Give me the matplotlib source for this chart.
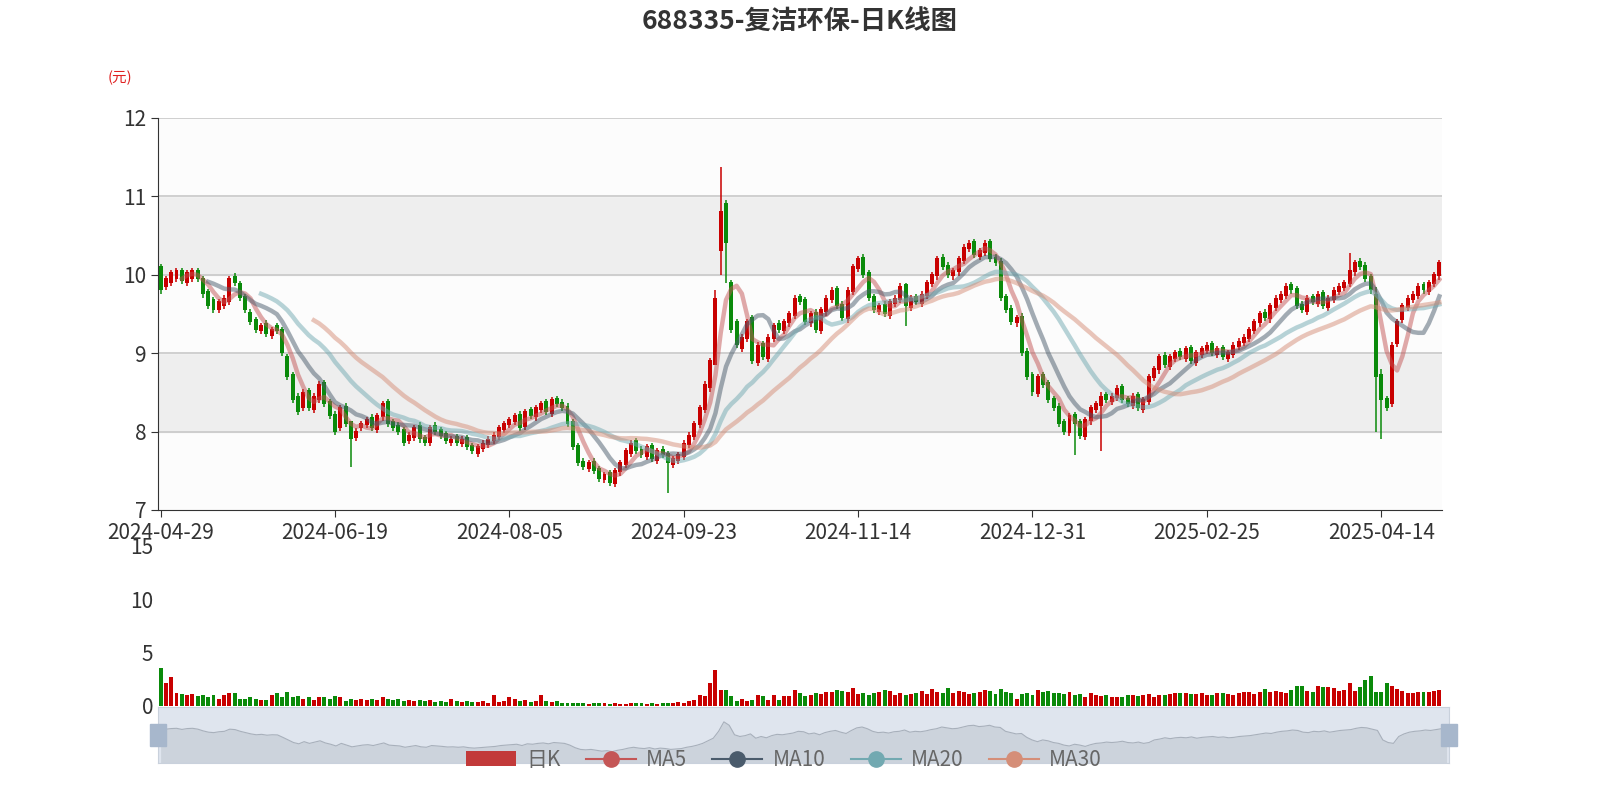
import numpy as np
import pandas as pd
import matplotlib
matplotlib.use("Agg")
import matplotlib.pyplot as plt
from matplotlib.lines import Line2D
from matplotlib.patches import Patch

plt.rcParams["font.family"] = ["Noto Sans CJK SC", "DejaVu Sans"]
plt.rcParams["axes.unicode_minus"] = False

# 日K数据 (估读)
closes = [9.80,9.95,10.02,10.05,9.92,10.02,10.05,9.95,9.75,9.60,
          9.55,9.65,9.70,9.95,9.90,9.70,9.55,9.40,9.30,9.35,
          9.25,9.30,9.28,9.00,8.70,8.40,8.25,8.50,8.30,8.45,
          8.60,8.35,8.20,8.00,8.30,8.10,7.90,8.00,8.10,8.15,
          8.05,8.20,8.35,8.10,8.05,8.00,7.85,7.95,8.05,7.90,
          7.85,8.05,8.00,7.95,7.88,7.90,7.85,7.90,7.80,7.75,
          7.80,7.85,7.90,7.95,8.05,8.10,8.15,8.20,8.05,8.25,
          8.20,8.30,8.35,8.25,8.40,8.35,8.30,8.10,7.80,7.60,
          7.55,7.60,7.50,7.40,7.45,7.35,7.50,7.60,7.75,7.85,
          7.75,7.70,7.80,7.65,7.75,7.70,7.60,7.65,7.70,7.85,
          7.95,8.10,8.30,8.60,8.90,9.70,10.80,10.40,9.30,9.10,
          9.20,9.40,8.90,9.10,8.95,9.20,9.35,9.30,9.40,9.50,
          9.70,9.65,9.40,9.50,9.30,9.55,9.70,9.80,9.60,9.45,
          9.80,10.10,10.20,10.00,9.70,9.55,9.60,9.50,9.65,9.70,
          9.85,9.60,9.70,9.65,9.75,9.90,10.00,10.20,10.10,10.00,
          10.05,10.20,10.35,10.40,10.25,10.30,10.40,10.20,10.15,9.70,
          9.55,9.40,9.45,9.00,8.70,8.50,8.70,8.60,8.40,8.30,
          8.10,8.00,8.20,8.10,7.95,8.15,8.30,8.35,8.45,8.40,
          8.45,8.55,8.40,8.35,8.45,8.30,8.40,8.70,8.80,8.95,
          8.85,8.95,9.00,8.95,9.05,8.90,9.00,9.05,9.10,9.00,
          9.05,8.95,9.00,9.10,9.15,9.20,9.30,9.40,9.50,9.45,
          9.60,9.70,9.75,9.85,9.80,9.60,9.55,9.70,9.65,9.75,
          9.60,9.70,9.80,9.85,9.90,10.05,10.15,10.10,9.95,9.80,8.70,8.40,8.30,9.10,9.40,
          9.60,9.70,9.75,9.85,9.80,9.90,10.00,10.15]
opens = [10.10,9.85,9.90,9.95,10.05,9.90,9.95,10.05,9.95,9.78,
         9.68,9.55,9.60,9.65,9.98,9.88,9.72,9.52,9.42,9.28,
         9.38,9.22,9.35,9.30,8.95,8.72,8.45,8.30,8.52,8.28,
         8.40,8.62,8.38,8.22,8.05,8.32,8.12,7.92,8.05,8.08,
         8.18,8.02,8.18,8.38,8.12,8.08,8.02,7.88,7.92,8.08,
         7.92,7.85,8.08,8.02,7.97,7.86,7.93,7.84,7.92,7.82,
         7.72,7.78,7.83,7.88,7.93,8.02,8.08,8.12,8.22,8.06,
         8.28,8.18,8.28,8.38,8.22,8.42,8.37,8.32,8.12,7.82,
         7.62,7.52,7.62,7.52,7.38,7.47,7.33,7.48,7.58,7.72,
         7.88,7.77,7.68,7.82,7.63,7.77,7.72,7.58,7.63,7.68,
         7.83,7.93,8.08,8.28,8.55,8.85,10.30,10.90,9.90,9.40,
         9.05,9.18,9.45,8.88,9.12,8.93,9.18,9.38,9.28,9.38,
         9.48,9.72,9.68,9.38,9.52,9.28,9.52,9.68,9.82,9.62,
         9.43,9.78,10.08,10.22,10.02,9.72,9.53,9.62,9.48,9.63,
         9.68,9.87,9.58,9.72,9.63,9.73,9.88,9.98,10.22,10.12,
         9.98,10.03,10.18,10.33,10.42,10.23,10.28,10.42,10.22,10.17,
         9.72,9.57,9.38,9.47,9.02,8.72,8.48,8.72,8.62,8.42,
         8.32,8.12,7.98,8.22,8.12,7.93,8.13,8.28,8.33,8.47,
         8.38,8.43,8.57,8.42,8.33,8.47,8.28,8.38,8.68,8.78,
         8.97,8.83,8.93,9.02,8.93,9.07,8.88,8.98,9.03,9.12,
         8.98,9.07,8.93,8.98,9.08,9.13,9.18,9.28,9.38,9.52,
         9.43,9.58,9.68,9.73,9.87,9.82,9.62,9.53,9.72,9.63,
         9.77,9.58,9.68,9.78,9.83,9.88,10.03,10.17,10.12,9.97,9.75,8.72,8.42,8.35,9.12,
         9.42,9.58,9.68,9.73,9.87,9.78,9.88,9.98]
# 明显的影线 {索引: (最高, 最低)}
wicks = {105: (9.80, 8.85), 106: (11.38, 10.00), 107: (10.95, 9.90), 36: (8.05, 7.55),
         96: (7.75, 7.22), 173: (8.25, 7.70), 178: (8.50, 7.75), 141: (9.90, 9.35),
         230: (9.85, 8.00), 231: (8.80, 7.90), 225: (10.28, 9.85)}
volumes = [3.6,2.2,2.7,1.2,1.1,1.0,1.1,0.9,1.0,0.8,
           1.0,0.7,1.0,1.2,1.2,0.7,0.7,0.8,0.7,0.6,
           0.6,1.0,1.2,0.8,1.3,0.8,0.9,0.7,0.8,0.6,
           0.8,0.8,0.7,0.9,0.8,0.5,0.7,0.6,0.7,0.6,
           0.7,0.6,0.8,0.7,0.6,0.7,0.5,0.6,0.5,0.6,
           0.5,0.6,0.4,0.5,0.4,0.7,0.5,0.4,0.5,0.4,
           0.4,0.5,0.3,1.0,0.4,0.5,0.8,0.7,0.5,0.6,
           0.4,0.5,1.0,0.5,0.4,0.5,0.3,0.3,0.3,0.3,
           0.3,0.2,0.3,0.3,0.3,0.2,0.3,0.2,0.2,0.3,
           0.3,0.3,0.2,0.3,0.2,0.3,0.3,0.3,0.4,0.3,
           0.5,0.6,1.0,0.9,2.2,3.4,1.5,1.5,0.9,0.5,
           0.7,0.5,0.6,1.0,0.9,0.6,1.0,0.6,0.9,0.9,
           1.5,1.2,0.9,1.0,1.2,1.1,1.3,1.3,1.5,1.4,
           1.3,1.7,1.1,1.2,1.0,1.2,1.3,1.5,1.4,1.0,
           1.2,1.0,1.1,1.2,1.4,1.1,1.6,1.3,1.2,1.7,
           1.2,1.4,1.3,1.1,1.2,1.3,1.5,1.4,1.1,1.6,
           1.3,1.2,0.7,1.1,1.2,1.0,1.5,1.3,1.4,1.2,
           1.2,1.1,1.3,1.0,1.1,0.8,1.2,1.0,0.9,1.0,
           0.8,0.8,0.8,1.0,1.0,0.9,1.0,1.1,0.8,1.0,
           1.0,1.1,1.2,1.2,1.2,1.1,1.1,1.2,1.0,1.0,
           1.2,1.2,1.1,1.0,1.2,1.3,1.3,1.1,1.3,1.6,
           1.3,1.4,1.3,1.2,1.5,1.9,1.9,1.4,1.3,1.9,
           1.8,1.8,1.7,1.4,1.5,2.2,1.4,1.8,2.4,2.8,1.3,1.3,2.2,1.9,1.6,
           1.4,1.2,1.2,1.3,1.3,1.3,1.4,1.5]
tick_labels = ["2024-04-29", "2024-06-19", "2024-08-05", "2024-09-23",
               "2024-11-14", "2024-12-31", "2025-02-25", "2025-04-14"]

n = len(closes)
x = np.arange(n)
o = np.array(opens[:n]); c = np.array(closes)
hi = np.maximum(o, c) + 0.04
lo = np.minimum(o, c) - 0.04
for k, (h, l) in wicks.items():
    if k < n:
        hi[k] = h; lo[k] = l
up = c >= o
RED, GREEN = "#c80000", "#0a8a0a"
cols = np.where(up, RED, GREEN)

ma_cols = {5: "#c45656", 10: "#4a5b6c", 20: "#72a9b1", 30: "#d58e78"}
s = pd.Series(c)

fig = plt.figure(figsize=(16, 8), dpi=100)
fig.text(0.5, 0.972, "688335-复洁环保-日K线图", ha="center", va="center",
         fontsize=19, fontweight="bold", color="#333333")
fig.text(0.075, 0.903, "(元)", ha="center", va="center", fontsize=10.5, color="#e02020")

ax = fig.add_axes([0.09875, 0.3625, 0.8025, 0.49])
ax.set_xlim(-0.5, n - 0.5)
ax.set_ylim(7, 12)
for y0 in range(7, 12):
    ax.axhspan(y0, y0 + 1, color="#eeeeee" if y0 % 2 == 0 else "#fcfcfc", zorder=0)
for y0 in range(8, 13):
    ax.axhline(y0, color="#c8c8c8", lw=1.2, zorder=1)
ax.vlines(x, lo, hi, colors=cols, lw=1.1, zorder=3)
ax.bar(x, np.abs(c - o) + 0.01, bottom=np.minimum(o, c), width=0.75, color=cols, zorder=3)
for w, col in ma_cols.items():
    ax.plot(x, s.rolling(w).mean(), color=col, lw=3.2, alpha=0.5, zorder=4)
ax.set_yticks(range(7, 13))
ax.set_xticks(np.arange(len(tick_labels)) * 33)
ax.set_xticklabels(tick_labels)
ax.tick_params(labelsize=15, colors="#333333", length=5)
for sp in ["top", "right"]:
    ax.spines[sp].set_visible(False)
ax.spines["left"].set_color("#333333")
ax.spines["bottom"].set_color("#333333")

# 成交量
axv = fig.add_axes([0.09875, 0.1175, 0.8025, 0.2])
axv.set_xlim(-0.5, n - 0.5)
axv.set_ylim(0, 15)
axv.bar(x, volumes[:n], width=0.75, color=cols)
axv.set_yticks([0, 5, 10, 15])
axv.set_xticks([])
axv.tick_params(labelsize=15, colors="#333333", length=0)
for sp in axv.spines.values():
    sp.set_visible(False)
axv.patch.set_alpha(0)

# 缩放滑块
axs = fig.add_axes([0.09875, 0.046, 0.807, 0.07])
axs.set_xlim(-0.5, n - 0.5)
axs.set_ylim(6, 12.5)
axs.patch.set_facecolor("#dfe5ee")
axs.fill_between(x, 6, c, color="#ccd3dc", lw=0)
axs.plot(x, c, color="#a8b0bb", lw=0.8)
axs.set_xticks([]); axs.set_yticks([])
for sp in axs.spines.values():
    sp.set_color("#c9d1dc")
for xe in (0.0, 1.0):
    axs.add_patch(plt.Rectangle((xe - 0.006, 0.3), 0.012, 0.4, transform=axs.transAxes,
                                color="#a7b7cc", clip_on=False, zorder=5))

handles = [Patch(facecolor="#c23a3a", edgecolor="none")] + [
    Line2D([], [], color=col, marker="o", markersize=11, lw=1.5) for col in ma_cols.values()]
labels = ["日K", "MA5", "MA10", "MA20", "MA30"]
fig.legend(handles, labels, loc="center", bbox_to_anchor=(0.49, 0.05), ncol=5,
           frameon=False, fontsize=15, labelcolor="#666666", handlelength=2.4,
           columnspacing=1.2, handletextpad=0.5)

fig.savefig("out.png", dpi=100)
